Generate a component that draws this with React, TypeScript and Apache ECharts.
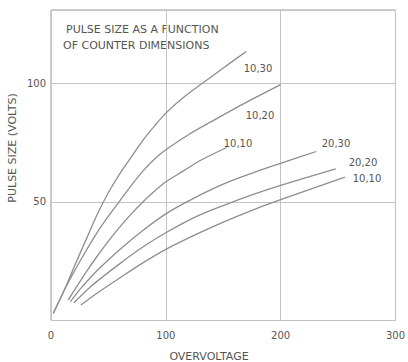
import React, { useEffect, useRef } from "react";
import * as echarts from "echarts";

// Curve "10,30"
const x10_30 = [2, 12, 20, 30, 40, 50, 60, 70, 80, 90, 100, 115, 133, 150, 170];
const y10_30 = [3, 13.3, 22.5, 33.5, 44.5, 54, 62, 69, 76, 82, 87.5, 94, 100.5, 106.5, 113.5];
// Curve "10,20"
const x10_20 = [2, 12, 20, 30, 40, 50, 60, 70, 80, 90, 100, 120, 140, 170, 200];
const y10_20 = [3, 13.2, 20.5, 29, 37, 44, 50.5, 57, 63, 68, 72, 78.5, 84, 92, 99.5];
// Curve "10,10" (upper group)
const x10_10a = [15, 20, 30, 40, 50, 60, 70, 80, 90, 100, 115, 130, 153];
const y10_10a = [8.6, 12.5, 20, 27, 33.5, 39.5, 45, 50, 54.5, 58.5, 63, 67.5, 73];
// Curve "20,30"
const x20_30 = [17, 25, 40, 60, 80, 100, 120, 150, 180, 200, 231];
const y20_30 = [8, 13, 21, 30, 38, 45, 50.5, 57.5, 63, 66.3, 71.3];
// Curve "20,20"
const x20_20 = [20, 35, 60, 80, 100, 125, 150, 175, 200, 248];
const y20_20 = [7.5, 14.5, 24, 31, 37, 43.5, 48.5, 53, 57, 64];
// Curve "10,10" (lower group)
const x10_10b = [26, 40, 60, 80, 100, 125, 150, 175, 200, 256];
const y10_10b = [6.5, 11.5, 18, 24.3, 30, 36, 41.5, 46.5, 51, 60.5];

const xTicks = [0, 100, 200, 300];
const yTicks = [50, 100];

const titleLines = ["PULSE SIZE AS A FUNCTION", "OF COUNTER DIMENSIONS"];
const curveLabels = ["10,30", "10,20", "10,10", "20,30", "20,20", "10,10"];

const pairs = (xs: number[], ys: number[]) => xs.map((x, i) => [x, ys[i]]);

const FONT = "DejaVu Sans";
const TXT = "#555555";
const LINE = "#8e8e8e";

export default function App() {
  const ref = useRef<HTMLDivElement>(null);
  useEffect(() => {
    if (!ref.current) return;
    const chart = echarts.init(ref.current, null, { renderer: "svg" });
    const curves = [
      pairs(x10_30, y10_30),
      pairs(x10_20, y10_20),
      pairs(x10_10a, y10_10a),
      pairs(x20_30, y20_30),
      pairs(x20_20, y20_20),
      pairs(x10_10b, y10_10b),
    ];
    const labelPos = [
      [258, 68],
      [260, 115],
      [238, 143],
      [336, 143],
      [363, 162],
      [367, 178],
    ];
    const text = (t: string, x: number, y: number, size = 10, extra: any = {}) => ({
      type: "text",
      x,
      y,
      ...extra,
      style: {
        text: t,
        fill: TXT,
        font: `${size}px "${FONT}"`,
        textAlign: "center",
        textVerticalAlign: "middle",
        ...(extra.style || {}),
      },
    });
    chart.setOption({
      animation: false,
      backgroundColor: "#ffffff",
      grid: {
        left: 51,
        right: 5,
        top: 10,
        bottom: 41.5,
        show: true,
        borderColor: "#9a9a9a",
        borderWidth: 1,
      },
      xAxis: {
        type: "value",
        min: 0,
        max: 300,
        interval: 100,
        axisLine: { show: false },
        axisTick: { show: false },
        splitLine: { show: true, lineStyle: { color: "#c4c4c4", width: 1 } },
        axisLabel: {
          color: TXT,
          fontFamily: FONT,
          fontSize: 10,
          margin: 10,
          formatter: (v: number) => (xTicks.includes(v) ? String(v) : ""),
        },
      },
      yAxis: {
        type: "value",
        min: 0,
        max: 131,
        interval: 50,
        axisLine: { show: false },
        axisTick: { show: false },
        splitLine: { show: true, lineStyle: { color: "#c4c4c4", width: 1 } },
        axisLabel: {
          color: TXT,
          fontFamily: FONT,
          fontSize: 10,
          margin: 5,
          showMinLabel: false,
          showMaxLabel: false,
          formatter: (v: number) => (yTicks.includes(v) ? String(v) : ""),
        },
      },
      series: curves.map((d, i) => ({
        type: "line",
        name: curveLabels[i],
        data: d,
        smooth: 0.3,
        symbol: "none",
        lineStyle: { color: LINE, width: 1.3 },
      })),
      graphic: [
        text(titleLines[0], 66, 29, 11, { style: { textAlign: "left" } }),
        text(titleLines[1], 63, 45, 11, { style: { textAlign: "left" } }),
        ...curveLabels.map((l, i) => text(l, labelPos[i][0], labelPos[i][1], 10)),
        text("OVERVOLTAGE", 209, 356, 11),
        text("PULSE SIZE (VOLTS)", 12, 148, 11, { rotation: Math.PI / 2 }),
      ],
    });
    return () => chart.dispose();
  }, []);
  return <div ref={ref} style={{ width: 408, height: 362, position: "absolute", left: 0, top: 0 }} />;
}
